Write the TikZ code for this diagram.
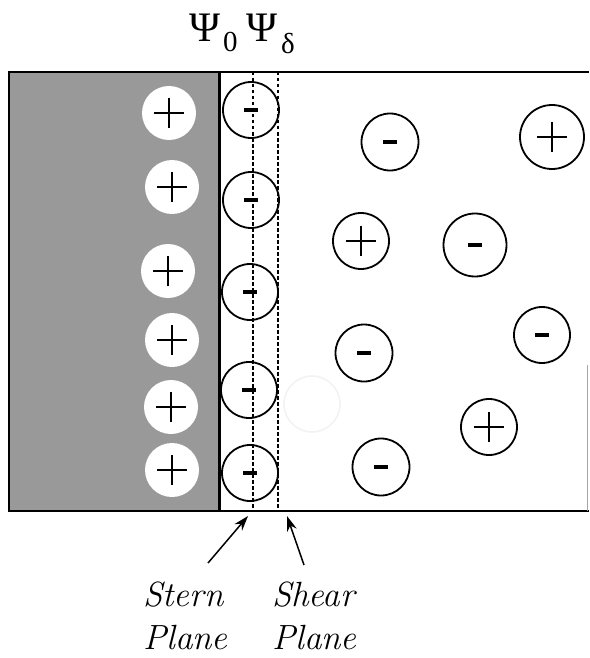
\documentclass[tikz,border=0pt]{standalone}
\usepackage{fontspec}
\newfontfamily\psifont{Liberation Serif}
\usetikzlibrary{arrows.meta}
\definecolor{metal}{gray}{0.6}
\begin{document}
\begin{tikzpicture}[x=1pt,y=-1pt,
  ion/.style={circle, draw, line width=1.8pt, inner sep=0pt, minimum size=#1},
  ion/.default=56pt,
  plusmark/.style={path picture={\draw[line width=2.6pt]
      ([xshift=-15pt]path picture bounding box.center) -- ([xshift=15pt]path picture bounding box.center)
      ([yshift=-15pt]path picture bounding box.center) -- ([yshift=15pt]path picture bounding box.center);}},
  minusmark/.style={path picture={\fill
      ([shift={(-7pt,-2.3pt)}]path picture bounding box.center) rectangle ([shift={(7pt,2.3pt)}]path picture bounding box.center);}},
  surfion/.style={circle, fill=white, inner sep=0pt, minimum size=54pt, plusmark},
  ghost/.style={circle, draw=black!5, line width=1.5pt, inner sep=0pt, minimum size=56pt},
  plane/.style={dashed, dash pattern=on 3.5pt off 2.5pt, line width=1.3pt},
  pointer/.style={line width=1.5pt, -{Stealth[length=15pt,width=10pt]}},
  lbl/.style={font=\fontsize{35}{42}\selectfont\itshape, anchor=base west, inner sep=0pt},
  psi/.style={font=\fontsize{42}{48}\psifont, anchor=base west, inner sep=0pt},
  psisub/.style={font=\fontsize{29}{34}\psifont, anchor=base west, inner sep=0pt}
]
\useasboundingbox[fill=white] (0,0) rectangle (589,658);

% metal surface
\fill[metal] (10,73) rectangle (219,510);
\draw[line width=2pt] (8,72) -- (589,72);
\draw[line width=2pt] (8,511) -- (589,511);
\draw[line width=1.5pt] (9,72) -- (9,511);
\draw[line width=3pt] (219,72) -- (219,511);
\draw[line width=0.8pt, black!35] (587,365) -- (587,511);

% planes
\coordinate (sternTop) at (253,72);
\coordinate (sternBot) at (253,511);
\coordinate (shearTop) at (278,72);
\coordinate (shearBot) at (278,511);
\draw[plane] (sternTop) -- (sternBot);
\draw[plane] (shearTop) -- (shearBot);

% surface charges
\node[surfion] (s1) at (169,113) {};
\node[surfion] (s2) at (172,187) {};
\node[surfion] (s3) at (168,271) {};
\node[surfion] (s4) at (172,340) {};
\node[surfion] (s5) at (171,407) {};
\node[surfion] (s6) at (172,470) {};

% Stern layer counter-ions
\node[ion, minusmark] (a1) at (251,110) {};
\node[ion, minusmark] (a2) at (251,200) {};
\node[ion, minusmark] (a3) at (250,292) {};
\node[ion, minusmark] (a4) at (249,390) {};
\node[ion, minusmark] (a5) at (250,473) {};

% diffuse layer
\node[ghost] (g1) at (312,404) {};
\node[ion=57pt, minusmark] (n1) at (390,142) {};
\node[ion=64pt, plusmark]  (p1) at (552,137) {};
\node[ion=56pt, plusmark]  (p2) at (361,241) {};
\node[ion=63pt, minusmark] (n2) at (475,245) {};
\node[ion=56pt, minusmark] (n3) at (542,335) {};
\node[ion=57pt, minusmark] (n4) at (364,353) {};
\node[ion=56pt, plusmark]  (p3) at (489,427) {};
\node[ion=57pt, minusmark] (n5) at (381,467) {};

% potentials
\node[psi] (psi0) at (189,42) {Ψ};
\node[psisub] (sub0) at (223,52) {0};
\node[psi] (psid) at (246,42) {Ψ};
\node[psisub] (subd) at (281,54) {δ};

% labels
\node[lbl] (stern1) at (143,606) {Stern};
\node[lbl] (stern2) at (143,649) {Plane};
\node[lbl] (shear1) at (272,606) {Shear};
\node[lbl] (shear2) at (272,649) {Plane};

\coordinate (sternTail) at (208,563);
\coordinate (sternTip) at (248,516);
\coordinate (shearTail) at (304,565);
\coordinate (shearTip) at (287,516);
\draw[pointer] (sternTail) -- (sternTip);
\draw[pointer] (shearTail) -- (shearTip);
\end{tikzpicture}
\end{document}
